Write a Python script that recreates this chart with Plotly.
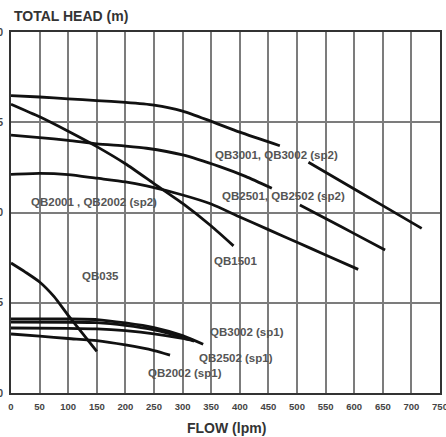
import plotly.graph_objects as go

# ---- data ----
flow_ticks = list(range(0, 751, 50))
head_ticks = [0, 5, 10, 15, 20]

qb3001_sp2_x = [0, 50, 100, 150, 200, 250, 300, 350, 400, 470, None, 520, 600, 650, 718]
qb3001_sp2_y = [16.48, 16.4, 16.3, 16.2, 16.1, 15.95, 15.62, 15.05, 14.45, 13.7, None, 12.78, 11.3, 10.38, 9.12]

qb2501_sp2_x = [0, 50, 100, 150, 200, 237, 300, 365, 410, 456, None, 505, 560, 600, 654]
qb2501_sp2_y = [14.29, 14.15, 14.0, 13.8, 13.68, 13.56, 13.19, 12.54, 12.0, 11.34, None, 10.42, 9.5, 8.83, 7.92]

qb2001_sp2_x = [0, 50, 100, 150, 200, 237, 300, 350, 400, 450, 500, 550, 607]
qb2001_sp2_y = [12.11, 12.17, 12.1, 11.9, 11.7, 11.47, 10.97, 10.47, 9.75, 9.05, 8.35, 7.65, 6.85]

qb1501_x = [0, 50, 100, 150, 200, 250, 300, 350, 389]
qb1501_y = [16.0, 15.3, 14.5, 13.65, 12.7, 11.6, 10.5, 9.25, 8.15]

qb035_x = [0, 25, 50, 75, 100, 125, 150]
qb035_y = [7.2, 6.7, 6.15, 5.35, 4.3, 3.3, 2.3]

qb3002_sp1_x = [0, 50, 100, 150, 200, 250, 300, 336]
qb3002_sp1_y = [4.1, 4.1, 4.1, 4.07, 3.88, 3.62, 3.18, 2.7]

qb3001_sp1_x = [0, 100, 150, 200, 250, 300, 320]
qb3001_sp1_y = [3.93, 3.92, 3.9, 3.75, 3.5, 3.1, 2.9]

qb2502_sp1_x = [0, 100, 150, 200, 250, 300, 320]
qb2502_sp1_y = [3.6, 3.58, 3.55, 3.45, 3.28, 3.02, 2.88]

qb2002_sp1_x = [0, 50, 100, 150, 200, 250, 278]
qb2002_sp1_y = [3.27, 3.15, 3.02, 2.9, 2.66, 2.35, 2.1]

labels = ["QB3001, QB3002 (sp2)", "QB2501, QB2502 (sp2)", "QB2001 , QB2002 (sp2)",
          "QB1501", "QB035", "QB3002 (sp1)", "QB2502 (sp1)", "QB2002 (sp1)"]
label_x = [465, 477, 145, 392, 157, 413, 394, 304]
label_y = [13.19, 10.91, 10.58, 7.33, 6.48, 3.4, 1.96, 1.09]

curves = [
    (qb3001_sp2_x, qb3001_sp2_y),
    (qb2501_sp2_x, qb2501_sp2_y),
    (qb2001_sp2_x, qb2001_sp2_y),
    (qb1501_x, qb1501_y),
    (qb035_x, qb035_y),
    (qb3002_sp1_x, qb3002_sp1_y),
    (qb3001_sp1_x, qb3001_sp1_y),
    (qb2502_sp1_x, qb2502_sp1_y),
    (qb2002_sp1_x, qb2002_sp1_y),
]

FONT = "Liberation Sans, Arial, sans-serif"

fig = go.Figure()
for cx, cy in curves:
    fig.add_trace(go.Scatter(x=cx, y=cy, mode="lines",
                             line=dict(color="#111111", width=2.8, shape="spline", smoothing=0.6),
                             connectgaps=False, showlegend=False, hoverinfo="skip"))

for t, lx, ly in zip(labels, label_x, label_y):
    fig.add_annotation(x=lx, y=ly, text=t, showarrow=False, xanchor="center", yanchor="middle",
                       font=dict(family=FONT, size=11.5, color="#555555", weight="bold"))

fig.add_annotation(xref="paper", yref="paper", x=0, y=1, xshift=1, yshift=16,
                   xanchor="left", yanchor="middle", text="TOTAL HEAD (m)", showarrow=False,
                   font=dict(family=FONT, size=14, color="#333333", weight="bold"))
fig.add_annotation(xref="paper", yref="paper", x=0.503, y=0, yshift=-35,
                   xanchor="center", yanchor="middle", text="FLOW (lpm)", showarrow=False,
                   font=dict(family=FONT, size=14, color="#333333", weight="bold"))

fig.update_layout(
    width=446, height=437,
    margin=dict(l=11, r=6, t=32, b=44),
    paper_bgcolor="white", plot_bgcolor="white",
    showlegend=False,
    xaxis=dict(range=[0, 750], tickvals=flow_ticks, ticktext=[str(v) for v in flow_ticks],
               showgrid=True, gridcolor="#7c7c7c", gridwidth=1.8, zeroline=False,
               showline=True, linecolor="#333333", linewidth=2, mirror=True,
               ticks="", automargin=False, ticklabelstandoff=4, ticklabeloverflow="allow",
               tickfont=dict(family=FONT, size=9.5, color="#444444", weight="bold")),
    yaxis=dict(range=[0, 20], tickvals=head_ticks, ticktext=[str(v) for v in head_ticks],
               showgrid=True, gridcolor="#7c7c7c", gridwidth=1.8, zeroline=False,
               showline=True, linecolor="#333333", linewidth=2, mirror=True,
               ticks="", automargin=False, ticklabelstandoff=4, ticklabeloverflow="allow",
               tickfont=dict(family=FONT, size=10, color="#444444", weight="bold")),
)

fig.write_html("out.html", config={"displayModeBar": False},
               post_script="document.body.style.margin='0';document.body.style.overflow='hidden';")
